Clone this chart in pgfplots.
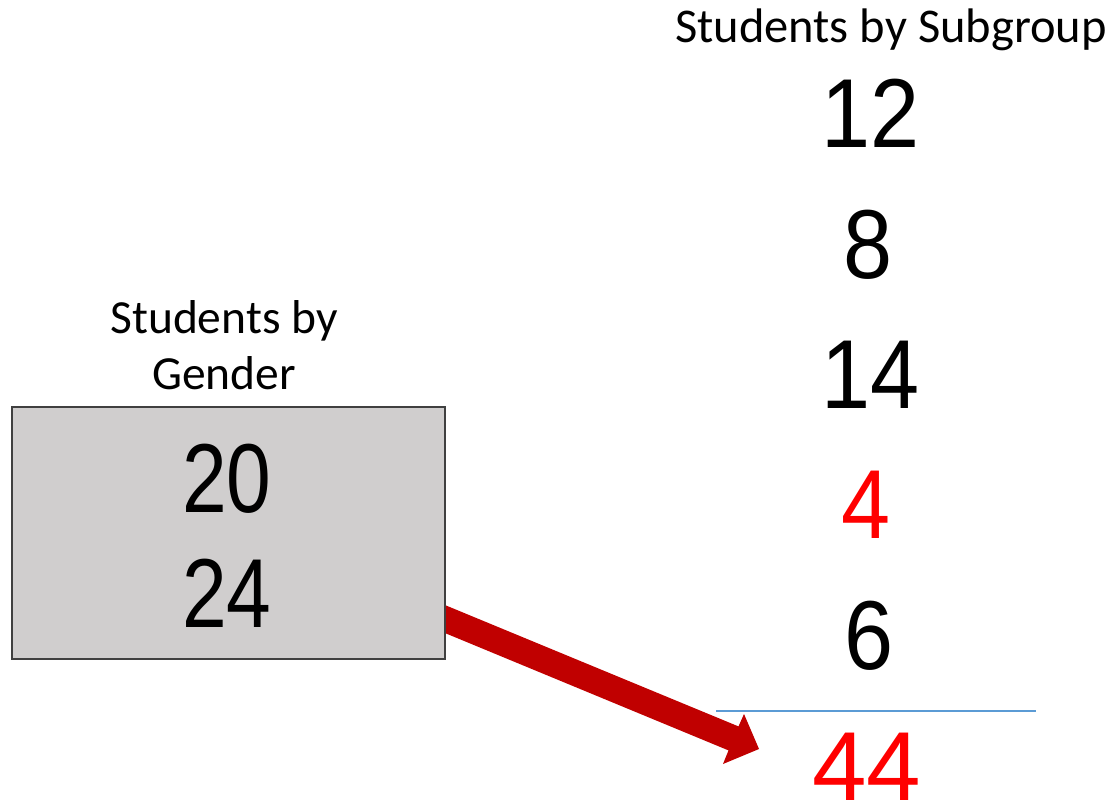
\documentclass[border=0pt]{standalone}
\usepackage{fontspec}
\setmainfont{Carlito}
\newfontfamily\arial{Liberation Sans}
\usepackage{pgfplots}
\pgfplotsset{compat=1.18}
\definecolor{boxgray}{HTML}{D0CECE}
\definecolor{boxedge}{HTML}{404040}
\definecolor{arrowred}{HTML}{C00000}
\definecolor{linblue}{HTML}{5B9BD5}
\definecolor{numred}{HTML}{FF0000}
\tikzset{numtxt/.style={anchor=base, inner sep=0pt, outer sep=0pt, font=\arial\fontsize{98}{98}\selectfont}}
\begin{document}
\begin{tikzpicture}
\begin{axis}[scale only axis, width=1108pt, height=800pt,
  xmin=0, xmax=1108, ymin=0, ymax=800, y dir=reverse,
  hide axis, clip=false]
% arrow
\addplot[draw=none, fill=arrowred, forget plot] coordinates
  {(440,603) (738.5,726.4) (744,714) (759,749) (723,764) (728.5,750.4) (440,631)} -- cycle;
% box
\addplot[fill=boxgray, draw=boxedge, line width=2pt, forget plot] coordinates
  {(12,407) (445,407) (445,659) (12,659)} -- cycle;
% separator line
\addplot[linblue, line width=1.5pt, forget plot] coordinates {(716,711) (1036,711)};
% subgroup numbers (black)
\addplot[draw=none, mark=none, nodes near coords, point meta=explicit symbolic,
  every node near coord/.append style={numtxt, text=black, xscale=0.9}] table[meta=label] {
x y label
871 147 12
868 278 8
871 408 14
869 669 6
};
% gender numbers
\addplot[draw=none, mark=none, nodes near coords, point meta=explicit symbolic,
  every node near coord/.append style={numtxt, text=black, xscale=0.82}] table[meta=label] {
x y label
227 512 20
227 627 24
};
% red numbers
\addplot[draw=none, mark=none, nodes near coords, point meta=explicit symbolic,
  every node near coord/.append style={numtxt, text=numred, xscale=0.9}] table[meta=label] {
x y label
866 538 4
};
\addplot[draw=none, mark=none, nodes near coords, point meta=explicit symbolic,
  every node near coord/.append style={numtxt, text=numred}] table[meta=label] {
x y label
867 800 44
};
\node[anchor=base, inner sep=0pt, font=\fontsize{48.5}{48.5}\selectfont] at (axis cs:891,43) {Students by Subgroup};
\node[anchor=base, inner sep=0pt, font=\fontsize{47.5}{47.5}\selectfont] at (axis cs:224,333) {Students by};
\node[anchor=base, inner sep=0pt, font=\fontsize{47.5}{47.5}\selectfont] at (axis cs:224,389) {Gender};
\coordinate (A) at (axis cs:0,0);
\coordinate (B) at (axis cs:1108,800);
\end{axis}
\pgfresetboundingbox
\path (A) rectangle (B);
\end{tikzpicture}
\end{document}
